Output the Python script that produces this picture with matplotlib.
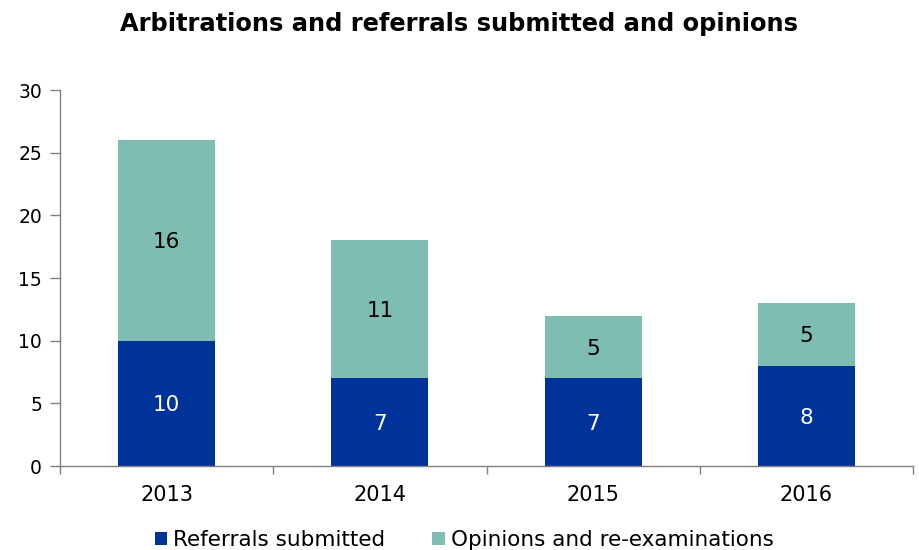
import matplotlib
matplotlib.use("Agg")
import matplotlib.pyplot as plt
import numpy as np

years = ["2013", "2014", "2015", "2016"]
referrals = [10, 7, 7, 8]
opinions = [16, 11, 5, 5]

c_ref = "#00339A"
c_op = "#7FBCB2"
plt.rcParams['font.family'] = ['DejaVu Sans']

fig = plt.figure(figsize=(9.19, 5.5), dpi=100)
ax = fig.add_axes([60/919, 84/550, 853/919, 376/550])

x = np.arange(len(years))
w = 0.455
b1 = ax.bar(x, referrals, w, color=c_ref, label="Referrals submitted")
b2 = ax.bar(x, opinions, w, bottom=referrals, color=c_op, label="Opinions and re-examinations")

for xi, r, o in zip(x, referrals, opinions):
    ax.text(xi, r/2, str(r), ha='center', va='center_baseline', color='white', fontsize=15.5)
    ax.text(xi, r + o/2, str(o), ha='center', va='center_baseline', color='black', fontsize=15.5)

ax.set_xlim(-0.5, len(years)-0.5)
ax.set_ylim(0, 30)
ax.set_yticks(range(0, 31, 5))
ax.set_xticks(x)
ax.set_xticklabels(years)
ax.set_xticks(np.arange(-0.5, len(years), 1), minor=True)
ax.tick_params(axis='x', which='major', length=0, pad=14, labelsize=15)
ax.tick_params(axis='x', which='minor', length=6, color='#808080', width=1)
ax.tick_params(axis='y', length=7, color='#808080', width=1, labelsize=13.5, pad=6)
for s in ['top', 'right']:
    ax.spines[s].set_visible(False)
for s in ['left', 'bottom']:
    ax.spines[s].set_color('#808080')
    ax.spines[s].set_linewidth(1)

fig.text(459/919, 1 - 24/550, "Arbitrations and referrals submitted and opinions",
         ha='center', va='center', fontsize=17.4, fontweight='bold')

fig.legend(handles=[b1, b2], loc='center', bbox_to_anchor=(464/919, 10/550), ncol=2,
           frameon=False, fontsize=15.5, handlelength=0.6, handleheight=0.6,
           handletextpad=0.25, columnspacing=2.2, borderaxespad=0)

fig.savefig("out.png", dpi=100)
